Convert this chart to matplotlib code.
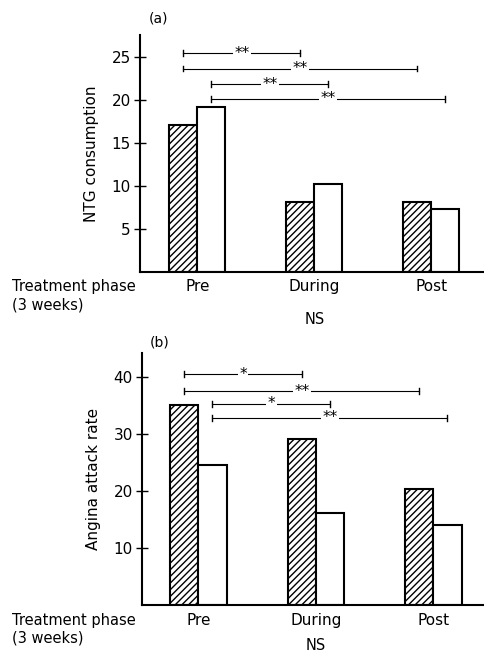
import matplotlib
matplotlib.use("Agg")
import matplotlib.pyplot as plt
import numpy as np

plt.rcParams['font.family'] = ['DejaVu Sans']
plt.rcParams['hatch.linewidth'] = 1.0

phases = ["Pre", "During", "Post"]
ntg_hatched = [17.0, 8.1, 8.1]
ntg_open = [19.1, 10.2, 7.3]
angina_hatched = [35.0, 29.1, 20.3]
angina_open = [24.5, 16.1, 14.0]

ntg_ticks = [5, 10, 15, 20, 25]
angina_ticks = [10, 20, 30, 40]

# significance brackets: (start bar, end bar, y level, label); bar = (group, 0 hatched / 1 open)
ntg_sig = [((0, 0), (1, 0), 25.4, "**"),
           ((0, 0), (2, 0), 23.6, "**"),
           ((0, 1), (1, 1), 21.8, "**"),
           ((0, 1), (2, 1), 20.1, "**")]
angina_sig = [((0, 0), (1, 0), 40.5, "*"),
              ((0, 0), (2, 0), 37.5, "**"),
              ((0, 1), (1, 1), 35.3, "*"),
              ((0, 1), (2, 1), 32.8, "**")]

W, H = 485, 656
fig = plt.figure(figsize=(W / 100, H / 100), dpi=100)

bw = 0.24
x = np.arange(len(phases))


def panel(left_px, right_px, bottom_px, top_px, hatched, open_, ticks, ymax, ylabel,
          sig, letter, letter_xy, lab_y, xlim, ns_y):
    ax = fig.add_axes([left_px / W, 1 - bottom_px / H, (right_px - left_px) / W,
                       (bottom_px - top_px) / H])
    ax.bar(x - bw / 2, hatched, bw, facecolor="white", edgecolor="black",
           hatch="/////", linewidth=1.5)
    ax.bar(x + bw / 2, open_, bw, facecolor="white", edgecolor="black", linewidth=1.5)
    ax.set_xlim(*xlim)
    ax.set_ylim(0, ymax)
    ax.set_yticks(ticks)
    ax.set_yticklabels([str(t) for t in ticks], fontsize=11)
    ax.set_xticks([])
    ax.tick_params(axis="y", direction="inout", length=9, width=1, pad=2)
    for s in ["top", "right"]:
        ax.spines[s].set_visible(False)
    ax.spines["left"].set_linewidth(1.5)
    ax.spines["bottom"].set_linewidth(1.5)
    ax.set_ylabel(ylabel, fontsize=11, labelpad=9)
    for (g0, k0), (g1, k1), yv, lab in sig:
        xa = g0 + (k0 - 0.5) * bw
        xb = g1 + (k1 - 0.5) * bw
        ax.plot([xa, xb], [yv, yv], color="black", lw=0.8, clip_on=False)
        cap = ymax * 0.012
        ax.plot([xa, xa], [yv - cap, yv + cap], color="black", lw=1.0, clip_on=False)
        ax.plot([xb, xb], [yv - cap, yv + cap], color="black", lw=1.0, clip_on=False)
        ax.text((xa + xb) / 2, yv, lab, ha="center", va="center", fontsize=11,
                bbox=dict(boxstyle="square,pad=0.1", fc="white", ec="none"))
    for i, p in enumerate(phases):
        ax.text(i, -0.03, p, transform=ax.get_xaxis_transform(), fontsize=11,
                ha="center", va="top")
    fig.text(letter_xy[0] / W, 1 - letter_xy[1] / H, letter, fontsize=10,
             ha="left", va="center")
    fig.text(12 / W, 1 - lab_y / H, "Treatment phase", fontsize=10.5, ha="left", va="center")
    fig.text(12 / W, 1 - (lab_y + 18) / H, "(3 weeks)", fontsize=10.5, ha="left", va="center")
    fig.text(((1 - xlim[0]) / (xlim[1] - xlim[0]) * (right_px - left_px) + left_px) / W,
             1 - ns_y / H, "NS", fontsize=10.5, ha="center", va="center")
    return ax


axa = panel(140, 485, 272, 35, ntg_hatched, ntg_open, ntg_ticks, 27.5, "NTG consumption",
            ntg_sig, "(a)", (149, 19), 287, (-0.49, 2.46), 320)
axb = panel(142, 485, 605, 353, angina_hatched, angina_open, angina_ticks, 44.2,
            "Angina attack rate", angina_sig, "(b)", (150, 342), 620, (-0.48, 2.44), 646)

fig.savefig("out.png", dpi=100)
